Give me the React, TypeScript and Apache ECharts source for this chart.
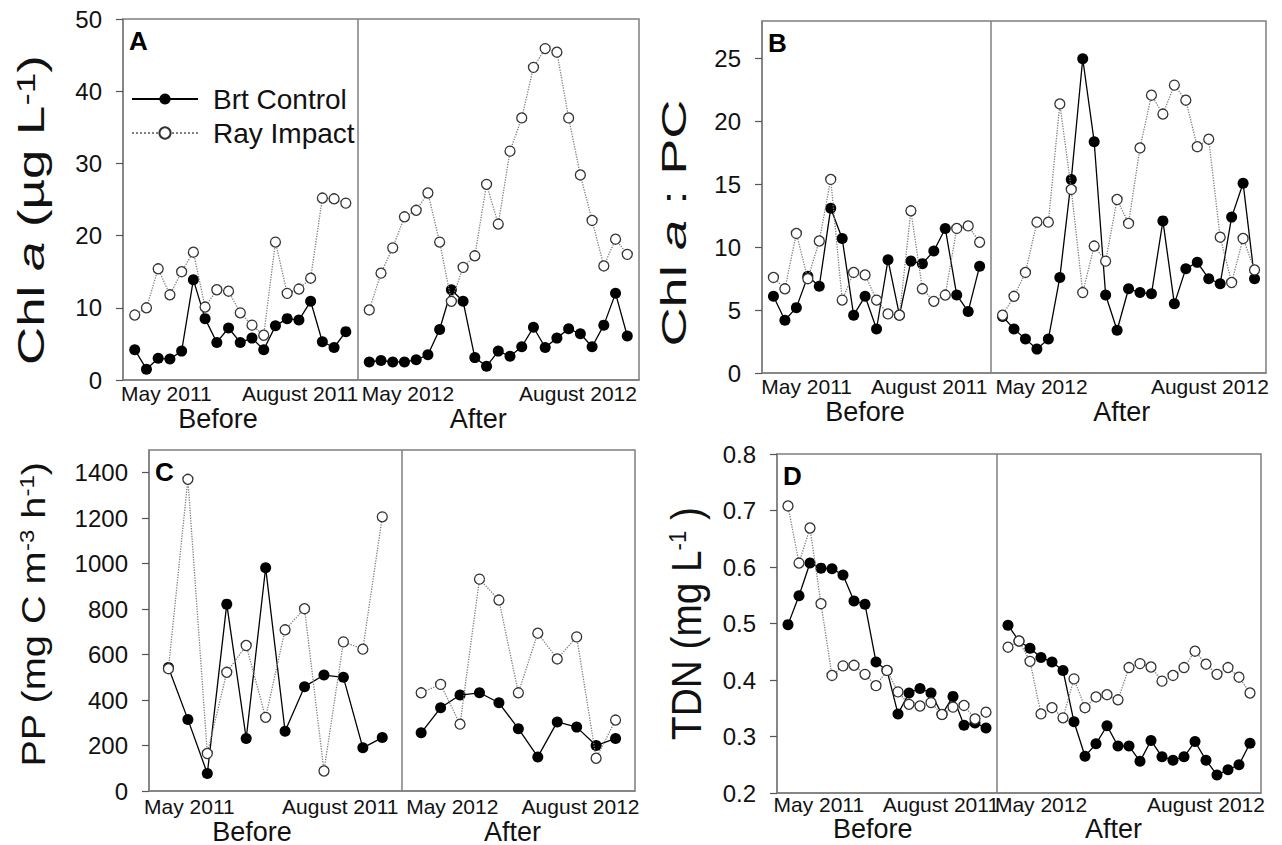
import React, { useEffect, useRef } from "react";
import * as echarts from "echarts";

const FONT = '"Liberation Sans", Arial, Helvetica, sans-serif';

// ---------- data ----------
const seriesNames = ["Brt Control", "Ray Impact"];
const dateLabels = ["May 2011", "August 2011", "May 2012", "August 2012"];
const periodLabels = ["Before", "After"];

// Panel A: Chl a (µg L-1)
const aControlBefore = [4.2, 1.5, 3.0, 2.9, 4.0, 13.9, 8.5, 5.2, 7.2, 5.2, 5.8, 4.2, 7.5, 8.5, 8.3, 10.9, 5.3, 4.5, 6.7];
const aImpactBefore = [9.0, 10.0, 15.4, 11.8, 15.0, 17.7, 10.1, 12.5, 12.3, 9.3, 7.6, 6.2, 19.1, 12.0, 12.6, 14.1, 25.2, 25.1, 24.5];
const aControlAfter = [2.5, 2.7, 2.5, 2.5, 2.8, 3.5, 7.0, 12.5, 10.9, 3.1, 1.9, 4.0, 3.3, 4.6, 7.3, 4.5, 5.8, 7.1, 6.4, 4.6, 7.6, 12.0, 6.1];
const aImpactAfter = [9.7, 14.8, 18.3, 22.6, 23.5, 25.9, 19.1, 10.9, 15.6, 17.2, 27.1, 21.6, 31.7, 36.3, 43.3, 45.9, 45.4, 36.3, 28.4, 22.1, 15.8, 19.5, 17.4];

// Panel B: Chl a : PC
const bControlBefore = [6.1, 4.2, 5.2, 7.7, 6.9, 13.1, 10.7, 4.6, 6.1, 3.5, 9.0, 4.6, 8.9, 8.7, 9.7, 11.5, 6.2, 4.9, 8.5];
const bImpactBefore = [7.6, 6.7, 11.1, 7.5, 10.5, 15.4, 5.8, 8.0, 7.8, 5.8, 4.7, 4.6, 12.9, 6.7, 5.7, 6.2, 11.5, 11.7, 10.4];
const bControlAfter = [4.5, 3.5, 2.7, 1.9, 2.7, 7.6, 15.4, 25.0, 18.4, 6.2, 3.4, 6.7, 6.4, 6.3, 12.1, 5.5, 8.3, 8.8, 7.5, 7.1, 12.4, 15.1, 7.5];
const bImpactAfter = [4.6, 6.1, 8.0, 12.0, 12.0, 21.4, 14.6, 6.4, 10.1, 8.9, 13.8, 11.9, 17.9, 22.1, 20.6, 22.9, 21.7, 18.0, 18.6, 10.8, 7.2, 10.7, 8.2];

// Panel C: PP (mg C m-3 h-1)
const cControlBefore = [543, 315, 77, 822, 231, 982, 263, 459, 510, 500, 190, 235];
const cImpactBefore = [538, 1371, 165, 522, 640, 324, 709, 802, 88, 656, 624, 1206];
const cControlAfter = [256, 366, 422, 432, 388, 274, 150, 304, 281, 200, 231];
const cImpactAfter = [432, 469, 294, 932, 840, 432, 694, 581, 678, 144, 312];

// Panel D: TDN (mg L-1)
const dControlBefore = [0.498, 0.549, 0.607, 0.598, 0.597, 0.586, 0.54, 0.534, 0.432, 0.417, 0.34, 0.377, 0.385, 0.377, 0.339, 0.371, 0.32, 0.324, 0.315];
const dImpactBefore = [0.708, 0.607, 0.669, 0.535, 0.408, 0.425, 0.426, 0.41, 0.39, 0.417, 0.379, 0.357, 0.354, 0.36, 0.339, 0.352, 0.355, 0.331, 0.343];
const dControlAfter = [0.497, 0.469, 0.456, 0.44, 0.432, 0.417, 0.326, 0.265, 0.287, 0.319, 0.283, 0.283, 0.256, 0.293, 0.264, 0.258, 0.264, 0.291, 0.258, 0.232, 0.241, 0.25, 0.288];
const dImpactAfter = [0.458, 0.469, 0.433, 0.34, 0.351, 0.333, 0.402, 0.351, 0.37, 0.374, 0.365, 0.422, 0.429, 0.423, 0.398, 0.408, 0.422, 0.451, 0.428, 0.41, 0.422, 0.405, 0.377];

// ---------- layout ----------
type Part = { t: string; italic?: boolean; sup?: boolean };
type Panel = {
  letter: string;
  grid: { left: number; top: number; width: number; height: number };
  yMin: number; yMax: number; yInterval: number; decimals: number; showMax: boolean;
  ctrlB: number[]; ctrlA: number[]; impB: number[]; impA: number[];
  datePos: number[]; periodPos: number[];
  dateMargin: number; periodMargin: number;
  title: Part[]; titleSize: number; supSize: number; titleX: number; titleY: number; titleLen: number;
};

const panels: Panel[] = [
  {
    letter: "A", grid: { left: 123, top: 19, width: 516, height: 361 },
    yMin: 0, yMax: 50, yInterval: 10, decimals: 0, showMax: true,
    ctrlB: aControlBefore, ctrlA: aControlAfter, impB: aImpactBefore, impA: aImpactAfter,
    datePos: [2.7, 14.1, 23.3, 37.8], periodPos: [7.1, 29.3], dateMargin: 3, periodMargin: 25,
    title: [{ t: "Chl " }, { t: "a", italic: true }, { t: " (µg L" }, { t: "-1", sup: true }, { t: ")" }],
    titleSize: 37, supSize: 26, titleX: 31.5, titleY: 210, titleLen: 310,
  },
  {
    letter: "B", grid: { left: 762, top: 21, width: 504, height: 352 },
    yMin: 0, yMax: 28, yInterval: 5, decimals: 0, showMax: false,
    ctrlB: bControlBefore, ctrlA: bControlAfter, impB: bImpactBefore, impA: bImpactAfter,
    datePos: [2.9, 13.6, 23.4, 38.1], periodPos: [8.0, 30.4], dateMargin: 3, periodMargin: 25,
    title: [{ t: "Chl " }, { t: "a", italic: true }, { t: " : PC" }],
    titleSize: 35, supSize: 20, titleX: 674, titleY: 223, titleLen: 247,
  },
  {
    letter: "C", grid: { left: 149, top: 450, width: 486, height: 341 },
    yMin: 0, yMax: 1500, yInterval: 200, decimals: 0, showMax: false,
    ctrlB: cControlBefore, ctrlA: cControlAfter, impB: cImpactBefore, impA: cImpactAfter,
    datePos: [1.08, 8.84, 14.6, 21.2], periodPos: [4.3, 17.7], dateMargin: 5, periodMargin: 27,
    title: [{ t: "PP (mg C m" }, { t: "-3", sup: true }, { t: " h" }, { t: "-1", sup: true }, { t: ")" }],
    titleSize: 33, supSize: 20, titleX: 33.4, titleY: 614.5, titleLen: 305,
  },
  {
    letter: "D", grid: { left: 777, top: 454, width: 484, height: 339 },
    yMin: 0.2, yMax: 0.8, yInterval: 0.1, decimals: 1, showMax: true,
    ctrlB: dControlBefore, ctrlA: dControlAfter, impB: dImpactBefore, impA: dImpactAfter,
    datePos: [2.8, 13.9, 23.0, 38.0], periodPos: [7.7, 29.6], dateMargin: 1, periodMargin: 22,
    title: [{ t: "TDN (mg L" }, { t: "-1", sup: true }, { t: " )" }],
    titleSize: 42, supSize: 24, titleX: 686.7, titleY: 623.5, titleLen: 233,
  },
];

const FRAME = "#7f7f7f";
const TEXT = "#111";

function measureParts(parts: Part[], size: number, supSize: number): number {
  const ctx = document.createElement("canvas").getContext("2d");
  if (!ctx) return 1;
  let w = 0;
  for (const p of parts) {
    ctx.font = `${p.italic ? "italic " : ""}${p.sup ? supSize : size}px ${FONT}`;
    w += ctx.measureText(p.t).width;
  }
  return w;
}

function lookup(positions: number[], labels: string[]) {
  return (v: number) => {
    for (let i = 0; i < positions.length; i++) {
      if (Math.abs(positions[i] - v) < 1e-6) return labels[i];
    }
    return "";
  };
}

function buildOption() {
  const grid: any[] = [];
  const xAxis: any[] = [];
  const yAxis: any[] = [];
  const series: any[] = [];
  const graphic: any[] = [];

  panels.forEach((p, k) => {
    const nB = p.ctrlB.length;
    const nA = p.ctrlA.length;
    const afterStart = nB + 1;
    const xMax = nB + 1 + nA;
    grid.push({ ...p.grid, show: true, borderColor: FRAME, borderWidth: 1.5, containLabel: false });

    xAxis.push({
      type: "value", gridIndex: k, min: -1, max: xMax, position: "bottom",
      axisLine: { show: true, onZero: false, lineStyle: { color: FRAME, width: 1.5 } },
      axisTick: { show: false }, splitLine: { show: false },
      axisLabel: {
        customValues: p.datePos, formatter: lookup(p.datePos, dateLabels),
        fontSize: 21, fontFamily: FONT, color: TEXT, margin: p.dateMargin,
      },
    });
    xAxis.push({
      type: "value", gridIndex: k, min: -1, max: xMax, position: "bottom", offset: 0,
      axisLine: { show: false, onZero: false }, axisTick: { show: false }, splitLine: { show: false },
      axisLabel: {
        customValues: p.periodPos, formatter: lookup(p.periodPos, periodLabels),
        fontSize: 27, fontFamily: FONT, color: TEXT, margin: p.periodMargin,
      },
    });
    yAxis.push({
      type: "value", gridIndex: k, min: p.yMin, max: p.yMax, interval: p.yInterval, position: "left",
      axisLine: { show: true, onZero: false, lineStyle: { color: FRAME, width: 1.5 } },
      axisTick: { show: true, inside: false, length: 7, lineStyle: { color: "#555", width: 1.2 } },
      splitLine: { show: false },
      axisLabel: {
        fontSize: 24, fontFamily: FONT, color: TEXT, margin: 21,
        showMaxLabel: p.showMax,
        formatter: (v: number) => v.toFixed(p.decimals),
      },
    });

    const ctrlStyle = {
      type: "line", name: seriesNames[0], xAxisIndex: 2 * k, yAxisIndex: k,
      symbol: "circle", symbolSize: 11, z: 3,
      itemStyle: { color: "#000" },
      lineStyle: { color: "#000", width: 1.3 },
      emphasis: { disabled: true },
    };
    const impStyle = {
      type: "line", name: seriesNames[1], xAxisIndex: 2 * k, yAxisIndex: k,
      symbol: "circle", symbolSize: 10, z: 4,
      itemStyle: { color: "#fff", borderColor: "#333", borderWidth: 1.3 },
      lineStyle: { color: "#808080", width: 1.3, type: "dotted" },
      emphasis: { disabled: true },
    };
    series.push({
      ...ctrlStyle,
      data: p.ctrlB.map((v, i) => [i, v]),
      markLine: {
        silent: true, symbol: ["none", "none"], label: { show: false },
        lineStyle: { color: FRAME, type: "solid", width: 1.5 },
        data: [{ xAxis: nB }],
      },
    });
    series.push({ ...ctrlStyle, data: p.ctrlA.map((v, i) => [afterStart + i, v]) });
    series.push({ ...impStyle, data: p.impB.map((v, i) => [i, v]) });
    series.push({ ...impStyle, data: p.impA.map((v, i) => [afterStart + i, v]) });

    // panel letter
    graphic.push({
      type: "text", left: p.grid.left + 6, top: p.grid.top + 9,
      style: { text: p.letter, fontSize: 26, fontWeight: "bold", fontFamily: FONT, fill: "#000" },
    });

    // y axis title
    const rich: any = {};
    let str = "";
    p.title.forEach((part, i) => {
      const key = "p" + i;
      str += `{${key}|${part.t}}`;
      rich[key] = {
        fontSize: part.sup ? p.supSize : p.titleSize,
        fontFamily: FONT,
        fontStyle: part.italic ? "italic" : "normal",
        fill: TEXT,
        lineHeight: part.sup ? p.supSize : p.titleSize,
        verticalAlign: part.sup ? "top" : "middle",
      };
    });
    const natural = measureParts(p.title, p.titleSize, p.supSize);
    const sx = natural > 0 ? p.titleLen / natural : 1;
    graphic.push({
      type: "text", x: p.titleX, y: p.titleY, rotation: Math.PI / 2, scaleX: sx, scaleY: 1,
      style: {
        text: str, rich, fontSize: p.titleSize, fontFamily: FONT, fill: TEXT,
        align: "center", verticalAlign: "middle",
      },
    });
  });

  return {
    animation: false,
    backgroundColor: "#fff",
    grid, xAxis, yAxis, series, graphic,
    legend: {
      orient: "vertical", left: 126, top: 80, itemWidth: 66, itemHeight: 14, itemGap: 6,
      selectedMode: false, data: seriesNames,
      textStyle: { fontSize: 28, fontFamily: FONT, color: TEXT, padding: [0, 0, 0, 10] },
    },
  };
}

export default function App() {
  const ref = useRef<HTMLDivElement>(null);
  useEffect(() => {
    document.body.style.margin = "0";
    if (!ref.current) return;
    const chart = echarts.init(ref.current, null, { renderer: "svg" });
    chart.setOption(buildOption() as any);
    return () => chart.dispose();
  }, []);
  return <div ref={ref} style={{ width: 1282, height: 845 }} />;
}
